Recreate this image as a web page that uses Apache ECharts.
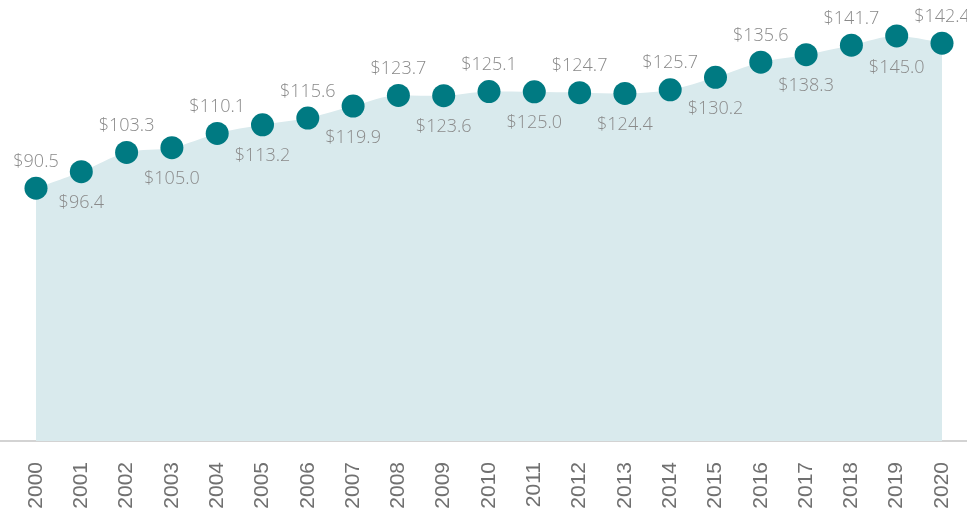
<!DOCTYPE html>
<html>
<head>
<meta charset="utf-8">
<script src="https://cdn.jsdelivr.net/npm/echarts@6/dist/echarts.min.js"></script>
<style>
  html, body { margin: 0; padding: 0; background: #fff; }
  #main { width: 967px; height: 512px; }
</style>
</head>
<body>
<div id="main"></div>
<script>
const years = ['2000', '2001', '2002', '2003', '2004', '2005', '2006', '2007', '2008', '2009', '2010',
  '2011', '2012', '2013', '2014', '2015', '2016', '2017', '2018', '2019', '2020']
const values = [90.5, 96.4, 103.3, 105.0, 110.1, 113.2, 115.6, 119.9, 123.7, 123.6, 125.1,
  125.0, 124.7, 124.4, 125.7, 130.2, 135.6, 138.3, 141.7, 145.0, 142.4]

const myChart = echarts.init(document.querySelector('#main'))

myChart.setOption({
  animation: false,
  grid: [
    { left: 36, right: 25, top: 8, bottom: 71 },
    // only used for the full-width baseline
    { left: 0, right: 0, top: 8, bottom: 71 }
  ],
  xAxis: [
    {
      type: 'category',
      data: years,
      boundaryGap: false,
      gridIndex: 0,
      axisLine: { show: false },
      axisTick: { show: false },
      axisLabel: {
        rotate: 90,
        margin: 21,
        color: '#707070',
        fontSize: 21,
        fontFamily: 'Liberation Sans, Arial, sans-serif'
      }
    },
    {
      type: 'category',
      data: years,
      gridIndex: 1,
      axisLine: { show: true, lineStyle: { color: '#c4c4c4', width: 1.5 } },
      axisTick: { show: false },
      axisLabel: { show: false }
    }
  ],
  yAxis: [
    { type: 'value', min: 0, max: 155, gridIndex: 0, show: false },
    { type: 'value', min: 0, max: 155, gridIndex: 1, show: false }
  ],
  series: [
    {
      type: 'line',
      xAxisIndex: 0,
      yAxisIndex: 0,
      smooth: 0.35,
      data: values.map((v, i) => ({
        value: v,
        label: {
          position: i % 2 === 0 ? 'top' : 'bottom',
          distance: i % 2 === 0 ? 6 : 11
        }
      })),
      symbol: 'circle',
      symbolSize: 23,
      itemStyle: { color: '#007a82' },
      lineStyle: { width: 0 },
      areaStyle: { color: '#d9eaed', opacity: 1 },
      label: {
        show: true,
        formatter: p => '$' + p.value.toFixed(1),
        color: '#8a8a8a',
        fontSize: 18,
        fontWeight: 300,
        fontFamily: 'Open Sans, sans-serif'
      }
    }
  ]
})
</script>
</body>
</html>
